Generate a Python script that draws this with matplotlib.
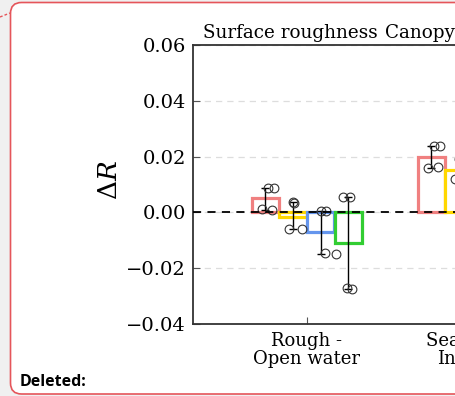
import matplotlib
matplotlib.use("Agg")
import matplotlib.pyplot as plt
import numpy as np
from matplotlib.patches import FancyBboxPatch
from matplotlib.ticker import FuncFormatter

plt.rcParams["mathtext.fontset"] = "dejavuserif"

# categories on the x axis and the panel titles above them
categories = ["Rough -\nOpen water", "Seasonal -\nInterior"]
titles = ["Surface roughness", "Canopy height"]

# mean delta R per series, one value per category
pink_vals = [0.0050, 0.0199]
yellow_vals = [-0.0015, 0.0152]
blue_vals = [-0.0070, 0.0110]
green_vals = [-0.0110, 0.0080]

# individual runs behind each bar (circles)
pink_pts = [[0.0087, 0.0089, 0.0011, 0.0009], [0.0238, 0.0237, 0.0160, 0.0161]]
yellow_pts = [[0.0036, 0.0034, -0.0061, -0.0061], [0.0190, 0.0188, 0.0120, 0.0118]]
blue_pts = [[0.0005, 0.0005, -0.0145, -0.0148], [0.0150, 0.0148, 0.0070, 0.0072]]
green_pts = [[0.0055, 0.0055, -0.0272, -0.0274], [0.0120, 0.0118, 0.0040, 0.0042]]

yticks = [-0.04, -0.02, 0.00, 0.02, 0.04, 0.06]

colors = ["#f08080", "#ffd700", "#6495ed", "#32cd32"]
series_vals = [pink_vals, yellow_vals, blue_vals, green_vals]
series_pts = [pink_pts, yellow_pts, blue_pts, green_pts]
offsets = [-0.25, -0.083, 0.083, 0.25]
width = 0.164
jitter = [[0.018, 0.054, -0.018, 0.042], [0.0, 0.006, -0.024, 0.054],
          [0.0, 0.036, 0.024, 0.096], [-0.03, 0.012, -0.006, 0.024]]

fig = plt.figure(figsize=(4.55, 3.96), dpi=100, facecolor="#f0f0f0")

# comment box drawn in pixel coordinates
bg = fig.add_axes([0, 0, 1, 1], zorder=0)
bg.set_xlim(0, 455)
bg.set_ylim(396, 0)
bg.axis("off")
box = FancyBboxPatch((10.5, 2.5), 470, 391.5, boxstyle="round,pad=0,rounding_size=11",
                     facecolor="white", edgecolor="#e5555a", lw=1.2)
bg.add_patch(box)
bg.plot([0, 10], [17, 13], color="#e5555a", lw=1, ls=(0, (2, 1.5)))
bg.text(20, 382, "Deleted:", fontsize=11.5, fontweight="bold", family="Open Sans",
        va="center", ha="left", color="black")

# main chart; it runs off the right edge of the picture
ax = fig.add_axes([193 / 455, 72 / 396, 396 / 455, 279 / 396], zorder=1)
ax.set_facecolor("none")
x = np.arange(len(categories))

for k in range(4):
    for g in range(len(categories)):
        xc = x[g] + offsets[k]
        ax.bar(xc, series_vals[k][g], width=width, facecolor="white",
               edgecolor=colors[k], lw=2.3, zorder=2)
        pts = np.array(series_pts[k][g])
        mid = (pts.max() + pts.min()) / 2
        ax.errorbar(xc, mid, yerr=(pts.max() - pts.min()) / 2, color="black",
                    lw=1, capsize=3, capthick=1, zorder=3)
        ax.plot(xc + np.array(jitter[k]), pts, "o", mfc="none", mec="#333333",
                ms=6.3, mew=0.8, zorder=4)

ax.axhline(0, color="black", lw=1.3, ls=(0, (4.5, 3.5)), zorder=5)
ax.set_ylim(-0.04, 0.06)
ax.set_xlim(-0.685, 1.7)
ax.set_yticks(yticks)
ax.yaxis.set_major_formatter(FuncFormatter(lambda v, p: f"{v:.2f}".replace("-", "\u2212")))
ax.yaxis.grid(True, ls=(0, (5, 4)), color="#dddddd", lw=0.9, zorder=0)
ax.set_xticks(x)
ax.set_xticklabels(categories, family="DejaVu Serif", fontsize=13, linespacing=1.0)
for lab in ax.get_yticklabels():
    lab.set_family("DejaVu Serif")
    lab.set_fontsize(14)
ax.tick_params(direction="in", length=5, width=0.8, color="#555555")
ax.tick_params(axis="y", pad=5)
ax.tick_params(axis="x", pad=6)
for s in ax.spines.values():
    s.set_color("#333333")
    s.set_linewidth(1.3)

ax.text(-0.625, 1.012, titles[0], transform=ax.get_xaxis_transform(),
        family="DejaVu Serif", fontsize=13.2, ha="left", va="bottom")
ax.text(0.472, 1.012, titles[1], transform=ax.get_xaxis_transform(),
        family="DejaVu Serif", fontsize=13.2, ha="left", va="bottom")

fig.text(110 / 455, 1 - 180 / 396, r"$\Delta R$", rotation=90, fontsize=19,
         ha="center", va="center")

fig.savefig("out.png", dpi=100, facecolor=fig.get_facecolor())
